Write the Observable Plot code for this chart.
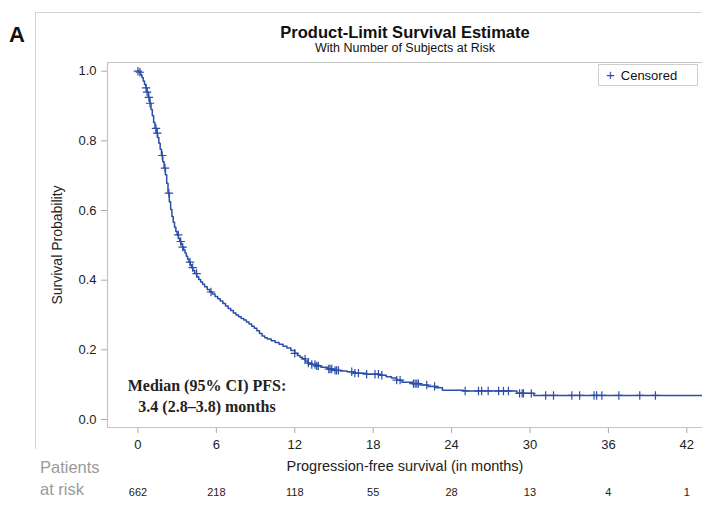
<!DOCTYPE html>
<html>
<head>
<meta charset="utf-8">
<script src="https://cdn.jsdelivr.net/npm/d3@7"></script>
<script src="https://cdn.jsdelivr.net/npm/@observablehq/plot@0.6"></script>
<style>
  html, body { margin: 0; padding: 0; background: #fff; }
  #wrap { position: relative; width: 702px; height: 506px; overflow: hidden; font-family: "Liberation Sans", Arial, sans-serif; }
  #wrap svg { position: absolute; left: 0; top: 0; }
  .abs { position: absolute; white-space: nowrap; }
</style>
</head>
<body>
<div id="wrap"></div>
<script>
// Kaplan-Meier estimate (time in months, survival probability)
const kmTimes = [0, 0.1, 0.2, 0.3, 0.4, 0.5, 0.6, 0.7, 0.8, 0.9, 1.0, 1.1, 1.2, 1.3, 1.4, 1.5, 1.6, 1.7, 1.8, 1.9, 2.0, 2.1, 2.2, 2.3, 2.4, 2.5, 2.6, 2.7, 2.8, 2.9, 3.0, 3.1, 3.2, 3.3, 3.4, 3.5, 3.6, 3.7, 3.8, 3.9, 4.0, 4.1, 4.2, 4.35, 4.5, 4.65, 4.8, 4.95, 5.1, 5.3, 5.5, 5.7, 5.9, 6.1, 6.3, 6.5, 6.7, 6.9, 7.1, 7.3, 7.5, 7.7, 7.9, 8.1, 8.3, 8.5, 8.7, 8.9, 9.1, 9.3, 9.5, 9.7, 9.9, 10.2, 10.5, 10.8, 11.1, 11.4, 11.7, 12.0, 12.2, 12.4, 12.6, 12.8, 13.0, 13.3, 13.6, 14.0, 14.5, 15.0, 15.5, 16.0, 16.5, 17.5, 18.5, 19.0, 19.4, 19.8, 20.2, 21.0, 21.6, 22.2, 22.8, 23.3, 24.9, 29.0, 30.3, 43.5];
const kmSurv  = [1.0, 0.997, 0.99, 0.982, 0.972, 0.962, 0.952, 0.94, 0.925, 0.908, 0.89, 0.872, 0.853, 0.836, 0.822, 0.81, 0.793, 0.776, 0.758, 0.74, 0.722, 0.703, 0.678, 0.65, 0.625, 0.603, 0.583, 0.566, 0.552, 0.54, 0.53, 0.52, 0.511, 0.503, 0.495, 0.487, 0.478, 0.469, 0.46, 0.452, 0.444, 0.436, 0.428, 0.419, 0.41, 0.402, 0.395, 0.388, 0.381, 0.373, 0.366, 0.36, 0.353, 0.347, 0.34, 0.333, 0.326, 0.319, 0.313, 0.306, 0.30, 0.295, 0.29, 0.286, 0.28, 0.274, 0.268, 0.262, 0.255, 0.247, 0.24, 0.235, 0.231, 0.226, 0.221, 0.216, 0.21, 0.205, 0.198, 0.19, 0.184, 0.179, 0.174, 0.168, 0.162, 0.158, 0.154, 0.15, 0.145, 0.141, 0.139, 0.137, 0.133, 0.13, 0.127, 0.123, 0.119, 0.113, 0.107, 0.103, 0.099, 0.095, 0.091, 0.084, 0.082, 0.075, 0.069, 0.069];
// Censoring times (months)
const censorTimes = [0.0, 0.15, 0.62, 0.7, 0.83, 0.92, 1.38, 1.48, 1.86, 2.07, 2.37, 3.09, 3.27, 3.42, 3.98, 4.19, 4.49, 5.59, 12.0, 12.79, 13.04, 13.3, 13.55, 13.68, 13.8, 14.6, 14.7, 14.83, 15.08, 15.2, 15.34, 16.36, 16.6, 16.87, 17.5, 18.14, 18.4, 18.66, 19.8, 20.06, 21.08, 21.21, 21.34, 21.46, 22.1, 22.7, 25.04, 26.06, 26.3, 26.8, 27.6, 27.97, 28.35, 29.2, 29.4, 29.5, 30.1, 31.2, 31.8, 33.2, 33.8, 34.9, 35.1, 35.5, 36.8, 38.4, 39.6];
// Number at risk
const riskTimes  = [0, 6, 12, 18, 24, 30, 36, 42];
const riskCounts = [662, 218, 118, 55, 28, 13, 4, 1];
// Axis ticks
const xTicks = [0, 6, 12, 18, 24, 30, 36, 42];
const yTicks = [0, 0.2, 0.4, 0.6, 0.8, 1.0];
const yTickLabels = ["0.0", "0.2", "0.4", "0.6", "0.8", "1.0"];

const km = kmTimes.map((t, i) => ({time: t, surv: kmSurv[i]}));
const bis = d3.bisector(d => d.time).right;
const survAt = t => km[Math.max(0, bis(km, t) - 1)].surv;
const censored = censorTimes.map(t => ({time: t, surv: survAt(t)}));

const plusSymbol = {
  draw(ctx, size) {
    const r = Math.sqrt(size / Math.PI);
    ctx.moveTo(-r, 0); ctx.lineTo(r, 0);
    ctx.moveTo(0, -r); ctx.lineTo(0, r);
  }
};

const blue = "#2c4ea8";
const frameColor = "#c4c4c4";
const xDomain = [-2.33, 43.2];
const yDomain = [-0.023, 1.025];

const chart = Plot.plot({
  width: 702,
  height: 506,
  marginLeft: 107,
  marginRight: 0,
  marginTop: 62,
  marginBottom: 79,
  style: {fontFamily: "'Liberation Sans', Arial, sans-serif", fontSize: "13px", color: "#222", background: "transparent"},
  x: {domain: xDomain, ticks: xTicks, tickSize: 6, tickPadding: 6, label: null, tickFormat: d => String(d)},
  y: {domain: yDomain, ticks: yTicks, tickSize: 6, tickPadding: 5, label: null, tickFormat: d => yTickLabels[yTicks.indexOf(d)]},
  marks: [
    Plot.ruleX([xDomain[0]], {stroke: frameColor, strokeWidth: 1.2}),
    Plot.ruleY([yDomain[0], yDomain[1]], {stroke: frameColor, strokeWidth: 1.2}),
    Plot.line(km, {x: "time", y: "surv", curve: "step-after", stroke: blue, strokeWidth: 1.5}),
    Plot.dot(censored, {x: "time", y: "surv", symbol: plusSymbol, r: 4.2, stroke: blue, strokeWidth: 1.2, fill: "none"}),
    Plot.text(riskTimes, {x: d => d, text: (d, i) => String(riskCounts[i]), frameAnchor: "bottom", dy: 68, fontSize: 11, fill: "#222"})
  ]
});

chart.querySelectorAll("g[aria-label$='axis'] path, g[aria-label$='axis tick'] path").forEach(p => p.setAttribute("stroke", "#aaa"));
chart.querySelectorAll("g[aria-label$='axis'] line").forEach(p => p.setAttribute("stroke", "#aaa"));

const wrap = document.getElementById("wrap");
wrap.appendChild(chart);

function addDiv(html, css) {
  const d = document.createElement("div");
  d.className = "abs";
  d.innerHTML = html;
  Object.assign(d.style, css);
  wrap.appendChild(d);
  return d;
}
// outer panel lines
addDiv("", {left: "35px", top: "12px", width: "680px", height: "436px", borderLeft: "1.5px solid #d4d4d4", borderTop: "1.5px solid #d4d4d4"});
addDiv("A", {left: "9px", top: "22px", fontSize: "22px", fontWeight: "bold", color: "#111", fontFamily: "'Liberation Sans', Arial, sans-serif"});
addDiv("Product-Limit Survival Estimate", {left: "405px", top: "23px", transform: "translateX(-50%)", fontSize: "16.5px", fontWeight: "bold", color: "#111"});
addDiv("With Number of Subjects at Risk", {left: "405px", top: "41px", transform: "translateX(-50%)", fontSize: "12.5px", color: "#111"});
addDiv("Survival Probability", {left: "57px", top: "245px", transform: "translate(-50%,-50%) rotate(-90deg)", fontSize: "14px", color: "#222"});
addDiv("Progression-free survival (in months)", {left: "405px", top: "458px", transform: "translateX(-50%)", fontSize: "14.5px", color: "#222"});
addDiv("Patients<br>at risk", {left: "40px", top: "456px", fontSize: "16.5px", lineHeight: "22px", color: "#9a9a9a"});
addDiv("Median (95% CI) PFS:<br>3.4 (2.8&ndash;3.8) months", {left: "207px", top: "375px", transform: "translateX(-50%)", textAlign: "center", fontFamily: "'Liberation Serif', 'Times New Roman', serif", fontWeight: "bold", fontSize: "16px", lineHeight: "21px", color: "#222"});
addDiv("<span style='color:" + blue + ";font-size:15px;margin-right:6px'>+</span>Censored", {left: "598px", top: "64px", width: "100px", height: "22px", boxSizing: "border-box", border: "1px solid #cfcfcf", fontSize: "13px", lineHeight: "20px", paddingLeft: "7px", color: "#111", background: "#fff"});
</script>
</body>
</html>
